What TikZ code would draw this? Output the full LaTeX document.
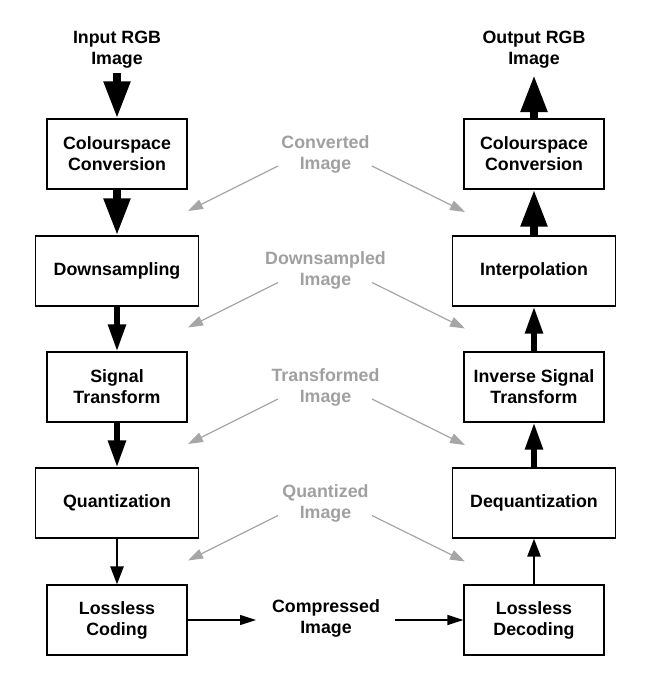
\documentclass[tikz,border=0pt]{standalone}
\usepackage{fontspec}
\setmainfont{Liberation Sans}
\usetikzlibrary{arrows.meta}
\definecolor{lblgray}{HTML}{A0A0A0}
\definecolor{arrgray}{HTML}{A6A6A6}
\begin{document}
\begin{tikzpicture}[x=1pt,y=-1pt,
  every node/.style={font=\fontsize{17.8}{21}\selectfont\bfseries, align=center, inner sep=0pt},
  stage/.style={draw, line width=1.2pt, minimum height=70pt},
  narrow/.style={stage, minimum width=140pt},
  wide/.style={stage, minimum width=163pt},
  graylbl/.style={text=lblgray},
  bigarrow/.style={line width=8pt, -{Triangle[width=25pt,length=37pt]}},
  midarrow/.style={line width=5.5pt, -{Triangle[width=17pt,length=27pt]}},
  smallarrow/.style={line width=2.6pt, -{Triangle[width=13pt,length=18pt]}},
  flatarrow/.style={line width=1.4pt, -{Triangle[width=10pt,length=16pt]}},
  grayarrow/.style={draw=arrgray, line width=1.2pt, -{Triangle[width=10pt,length=15pt]}, color=arrgray}
]
\useasboundingbox (0,0) rectangle (671,678);

% left column
\node[narrow] (lcc) at (117,154) {Colourspace\\Conversion};
\node[wide]   (lds) at (117,271) {Downsampling};
\node[narrow] (lst) at (117,387) {Signal\\Transform};
\node[wide]   (lq)  at (117,503) {Quantization};
\node[narrow] (llc) at (117,620) {Lossless\\Coding};

% right column
\node[narrow] (rcc) at (534,154) {Colourspace\\Conversion};
\node[wide]   (rin) at (534,271) {Interpolation};
\node[narrow] (ris) at (534,387) {Inverse Signal\\Transform};
\node[wide]   (rdq) at (534,503) {Dequantization};
\node[narrow] (rld) at (534,620) {Lossless\\Decoding};

% labels
\node (inp) at (117,50) {Input RGB\\Image};
\node (outp) at (534,50) {Output RGB\\Image};
\node (comp) at (326,618) {Compressed\\Image};
\node[graylbl] (g1) at (325.5,154) {Converted\\Image};
\node[graylbl] (g2) at (325.5,270) {Downsampled\\Image};
\node[graylbl] (g3) at (325.5,387) {Transformed\\Image};
\node[graylbl] (g4) at (325.5,503) {Quantized\\Image};

% main flow
\coordinate (inS) at (117,73);
\coordinate (outE) at (534,75);
\draw[bigarrow] (inS) -- (lcc.north);
\draw[bigarrow] (lcc.south) -- (lds.north);
\draw[midarrow] (lds.south) -- (lst.north);
\draw[midarrow] (lst.south) -- (lq.north);
\draw[smallarrow] (lq.south) -- (llc.north);

\coordinate (h1) at (256,620);
\coordinate (h2) at (395,620);
\draw[flatarrow] (llc.east) -- (h1);
\draw[flatarrow] (h2) -- (rld.west);

\draw[smallarrow] (rld.north) -- (rdq.south);
\draw[midarrow] (rdq.north) -- (ris.south);
\draw[midarrow] (ris.north) -- (rin.south);
\draw[bigarrow] (rin.north) -- (rcc.south);
\draw[bigarrow] (rcc.north) -- (outE);

% gray arrows
\foreach \i/\dy in {1/0,2/116.5,3/233,4/349.5}{
  \coordinate (gl\i s) at (278,166+\dy);
  \coordinate (gl\i e) at (188,211+\dy);
  \coordinate (gr\i s) at (372,166+\dy);
  \coordinate (gr\i e) at (465,212+\dy);
  \draw[grayarrow] (gl\i s) -- (gl\i e);
  \draw[grayarrow] (gr\i s) -- (gr\i e);
}
\end{tikzpicture}
\end{document}
